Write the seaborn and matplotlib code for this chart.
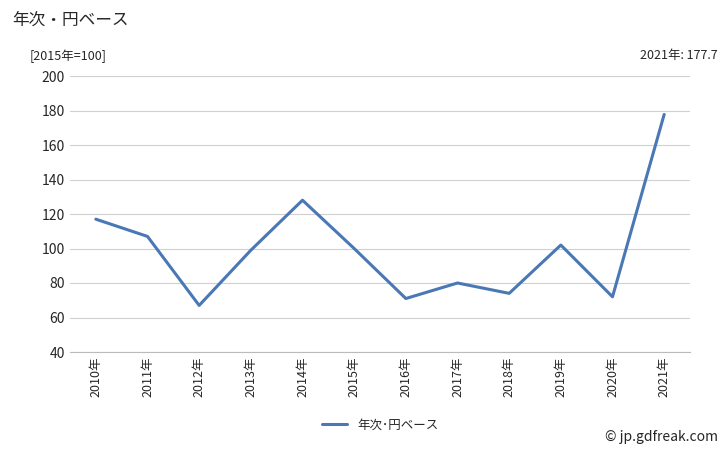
import matplotlib
matplotlib.use("Agg")
import matplotlib.pyplot as plt
import seaborn as sns
import pandas as pd

years = ["2010年","2011年","2012年","2013年","2014年","2015年","2016年","2017年","2018年","2019年","2020年","2021年"]
values = [117, 107, 67, 99, 128, 100, 71, 80, 74, 102, 72, 177.7]
series_name = "年次･円ベース"

sns.set_style("white")
plt.rcParams['font.family'] = ['Noto Sans CJK JP', 'DejaVu Sans']

df = pd.DataFrame({"year": years, "value": values, "s": series_name})
fig = plt.figure(figsize=(7.28, 4.5), dpi=100)
ax = fig.add_axes([70/728, 1-352/450, 620/728, 276/450])
sns.lineplot(data=df, x="year", y="value", hue="s", palette=["#4a78b5"], linewidth=2.2, ax=ax, sort=False)
ax.set_ylim(40, 200)
ax.set_yticks(range(40, 201, 20))
ax.set_xlim(-0.5, 11.5)
ax.grid(axis="y", color="#d0d0d0", linewidth=0.8)
for s in ["top", "right"]:
    ax.spines[s].set_visible(False)
ax.spines["left"].set_visible(False)
ax.spines["bottom"].set_color("#bbbbbb")
ax.set_xlabel(""); ax.set_ylabel("")
ax.tick_params(axis="x", rotation=90, labelsize=9, length=0)
ax.tick_params(axis="y", labelsize=10, length=0)
ax.legend(loc="upper center", bbox_to_anchor=(0.5, -0.2), frameon=False, fontsize=9)
fig.text(12/728, 1-20/450, "年次・円ベース", fontsize=12, va="center")
fig.text(30/728, 1-56/450, "[2015年=100]", fontsize=9, va="center")
fig.text(718/728, 1-56/450, "2021年: 177.7", fontsize=9, va="center", ha="right")
fig.text(718/728, 1-437/450, "© jp.gdfreak.com", fontsize=10, va="center", ha="right")
fig.savefig("out.png", dpi=100)
